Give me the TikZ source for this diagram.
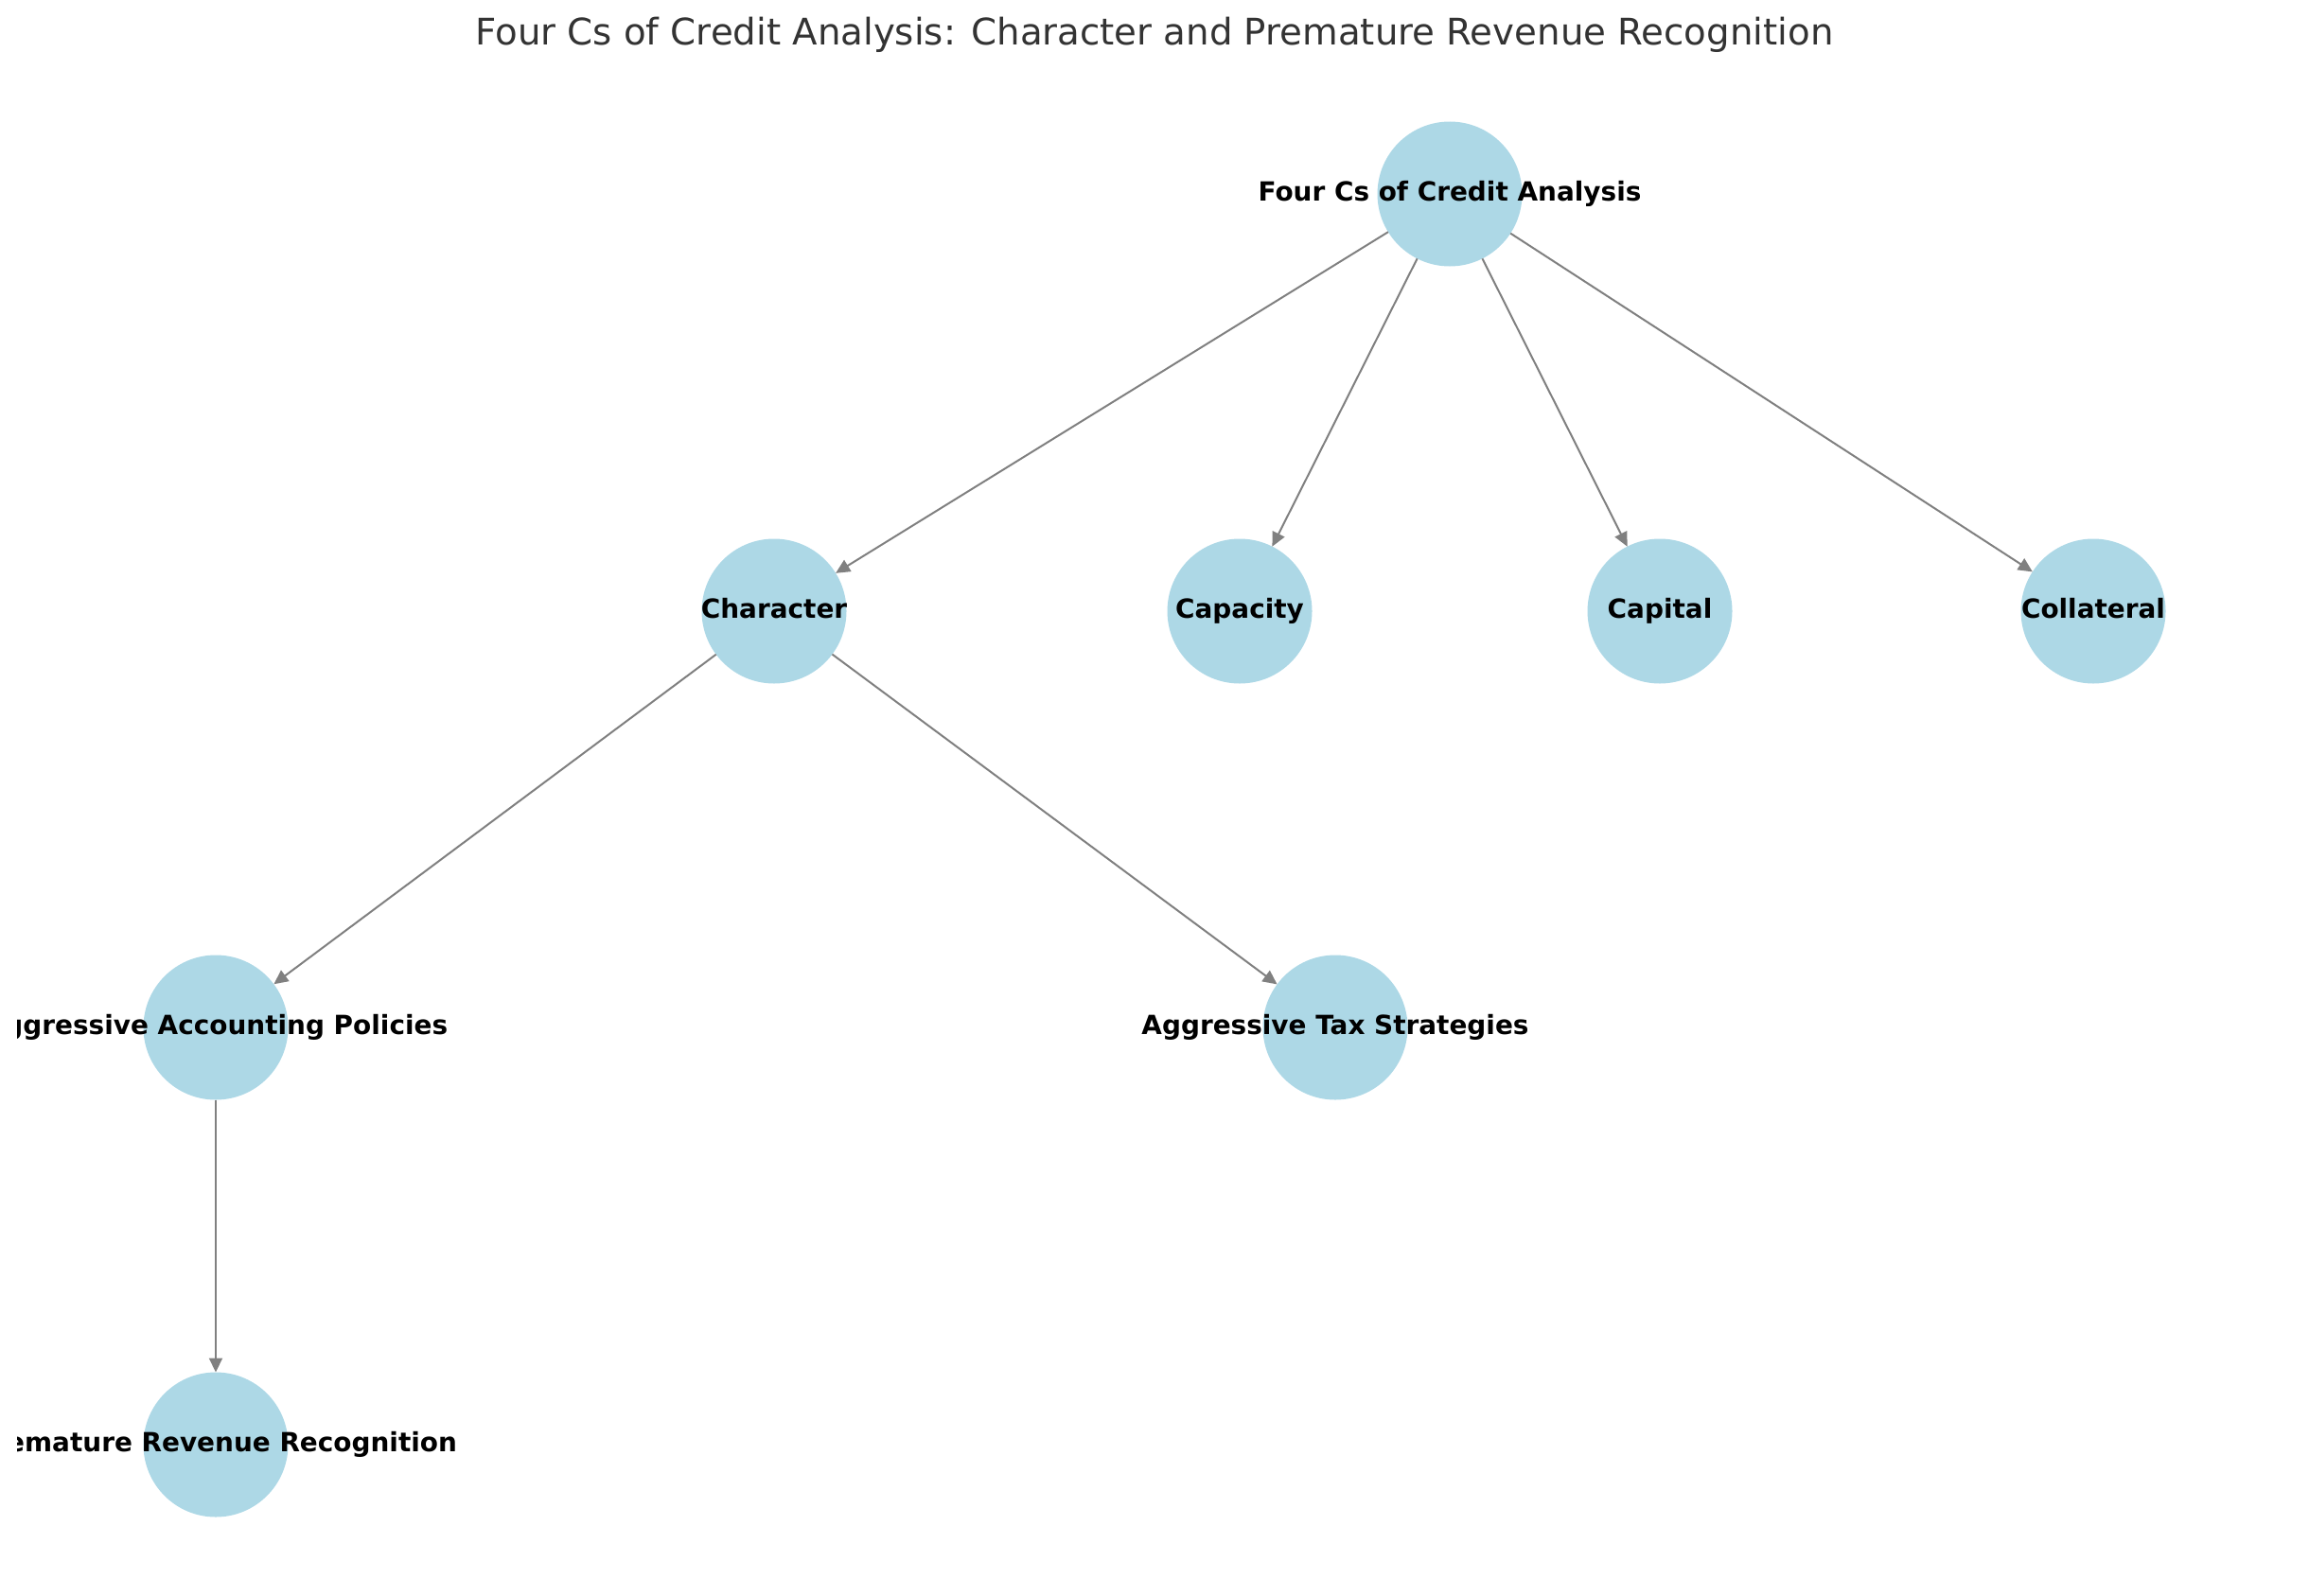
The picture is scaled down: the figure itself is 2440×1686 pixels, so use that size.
\documentclass[tikz,border=0pt]{standalone}
\usepackage{fontspec}
\setmainfont{DejaVu Sans}
\usetikzlibrary{arrows.meta}
\definecolor{nodeblue}{HTML}{ADD8E6}
\definecolor{titlegray}{HTML}{333333}

\begin{document}
\begin{tikzpicture}[x=0.5pt, y=-0.5pt,
  vtx/.style={circle, fill=nodeblue, minimum size=76.5pt, inner sep=0pt, outer sep=0pt},
  lbl/.style={font=\fontsize{13.95}{16}\selectfont\bfseries, text height=10.6pt, text depth=3.3pt, inner sep=0pt},
  link/.style={draw=gray, line width=1pt, -{Triangle[length=7.5pt, width=7pt]}}]
  \useasboundingbox (0,0) rectangle (2440,1686);

  % Title
  \node[font=\fontsize{19.35}{23}\selectfont, text=titlegray, anchor=base] (title) at (1220,48)
    {Four Cs of Credit Analysis: Character and Premature Revenue Recognition};

  % Nodes
  \foreach \i/\x/\y in {0/1532/205, 1/818/646, 2/1310/646, 3/1754/646, 4/2212/646,
                        5/228/1086, 6/1411/1086, 7/228/1527}{
    \node[vtx] (v\i) at (\x,\y) {};
  }

  % Edges
  \foreach \i/\j in {0/1, 0/2, 0/3, 0/4, 1/5, 1/6, 5/7}{
    \draw[link] (v\i) -- (v\j);
  }

  % Labels (cut at the plot area, as in the original)
  \begin{scope}
    \clip (18,0) rectangle (2440,1686);
    \foreach \i/\t in {0/Four Cs of Credit Analysis, 1/Character, 2/Capacity, 3/Capital,
                       4/Collateral, 5/Aggressive Accounting Policies,
                       6/Aggressive Tax Strategies, 7/Premature Revenue Recognition}{
      \node[lbl] (t\i) at (v\i) {\t};
    }
  \end{scope}

\end{tikzpicture}
\end{document}
